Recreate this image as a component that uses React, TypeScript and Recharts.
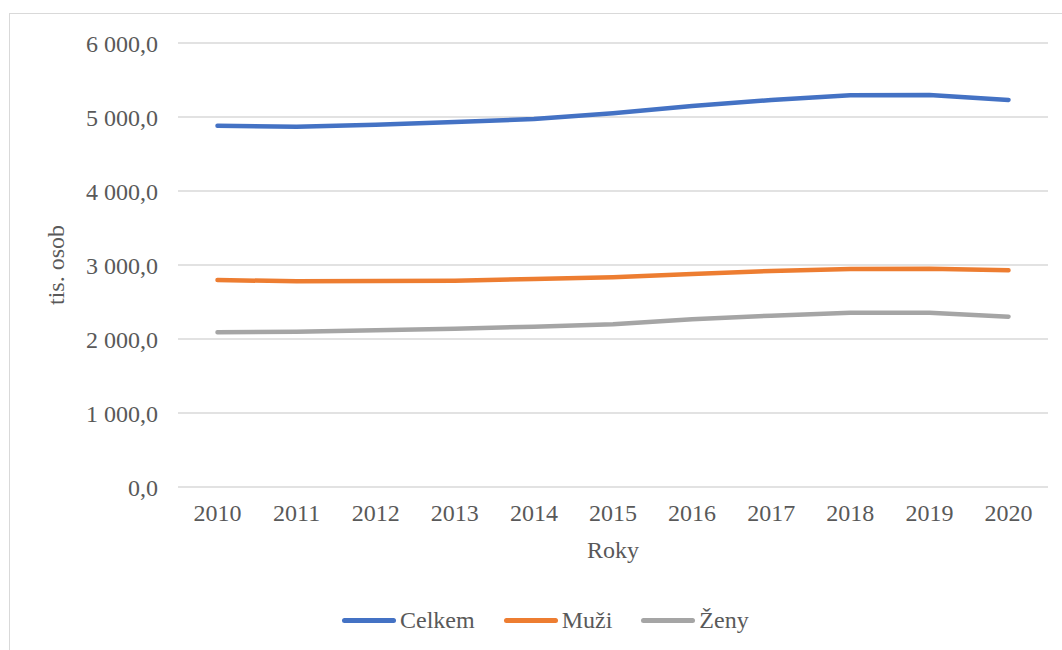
import { LineChart, Line, XAxis, YAxis, CartesianGrid, Legend } from 'recharts'

const years = ['2010', '2011', '2012', '2013', '2014', '2015', '2016', '2017', '2018', '2019', '2020']
const celkem = [4882, 4869, 4896, 4932, 4973, 5050, 5149, 5230, 5293, 5297, 5230]
const muzi = [2797, 2780, 2784, 2788, 2811, 2834, 2878, 2919, 2946, 2950, 2928]
const zeny = [2090, 2099, 2117, 2139, 2166, 2198, 2266, 2315, 2356, 2356, 2302]
const yTicks = [0, 1000, 2000, 3000, 4000, 5000, 6000]

const series = [
  { key: 'celkem', name: 'Celkem', color: '#4472C4' },
  { key: 'muzi', name: 'Muži', color: '#ED7D31' },
  { key: 'zeny', name: 'Ženy', color: '#A5A5A5' },
]

const data = years.map((year, i) => ({ year, celkem: celkem[i], muzi: muzi[i], zeny: zeny[i] }))

const font = '"Liberation Serif", "Times New Roman", serif'
const textColor = '#595959'

const formatY = (v: number) => {
  const [int, dec] = v.toFixed(1).split('.')
  return int.replace(/\B(?=(\d{3})+(?!\d))/g, ' ') + ',' + dec
}

const renderLegend = () => (
  <div style={{ display: 'flex', alignItems: 'center', paddingLeft: 342, height: 40, fontFamily: font, fontSize: 24, color: textColor }}>
    {series.map((s) => (
      <div key={s.key} style={{ display: 'flex', alignItems: 'center', marginRight: 29 }}>
        <span style={{ display: 'inline-block', width: 54, height: 5, borderRadius: 3, background: s.color, marginRight: 4 }} />
        <span>{s.name}</span>
      </div>
    ))}
  </div>
)

export default function App() {
  return (
    <div style={{ position: 'fixed', left: 0, top: 0, width: 1062, height: 650, overflow: 'hidden', background: '#fff' }}>
      <div style={{ position: 'absolute', left: 9, top: 13, width: 1100, height: 700, border: '1px solid #d9d9d9' }} />
      <div style={{ position: 'absolute', left: 0, top: 0 }}>
        <LineChart width={1062} height={650} data={data} margin={{ top: 43, right: 14, left: 40, bottom: 43 }}>
          <CartesianGrid vertical={false} stroke="#d9d9d9" strokeWidth={1.5} />
          <XAxis
            dataKey="year"
            axisLine={false}
            tickLine={false}
            tickSize={0}
            tickMargin={17}
            height={80}
            padding={{ left: 39.5, right: 39.5 }}
            tick={{ fill: textColor, fontSize: 24, fontFamily: font }}
            label={{ value: 'Roky', position: 'insideBottom', offset: 9, fill: textColor, fontSize: 24, fontFamily: font }}
          />
          <YAxis
            domain={[0, 6000]}
            ticks={yTicks}
            axisLine={false}
            tickLine={false}
            tickSize={0}
            tickMargin={20}
            width={138}
            tickFormatter={formatY}
            tick={{ fill: textColor, fontSize: 24, fontFamily: font }}
            label={{ value: 'tis. osob', angle: -90, position: 'insideLeft', offset: 15, fill: textColor, fontSize: 24, fontFamily: font, style: { textAnchor: 'middle' } }}
          />
          <Legend verticalAlign="bottom" content={renderLegend} wrapperStyle={{ left: 0, bottom: 10, width: 1062, height: 40 }} />
          {series.map((s) => (
            <Line
              key={s.key}
              type="linear"
              dataKey={s.key}
              name={s.name}
              stroke={s.color}
              strokeWidth={4.5}
              strokeLinecap="round"
              strokeLinejoin="round"
              dot={false}
              activeDot={false}
              isAnimationActive={false}
            />
          ))}
        </LineChart>
      </div>
    </div>
  )
}
